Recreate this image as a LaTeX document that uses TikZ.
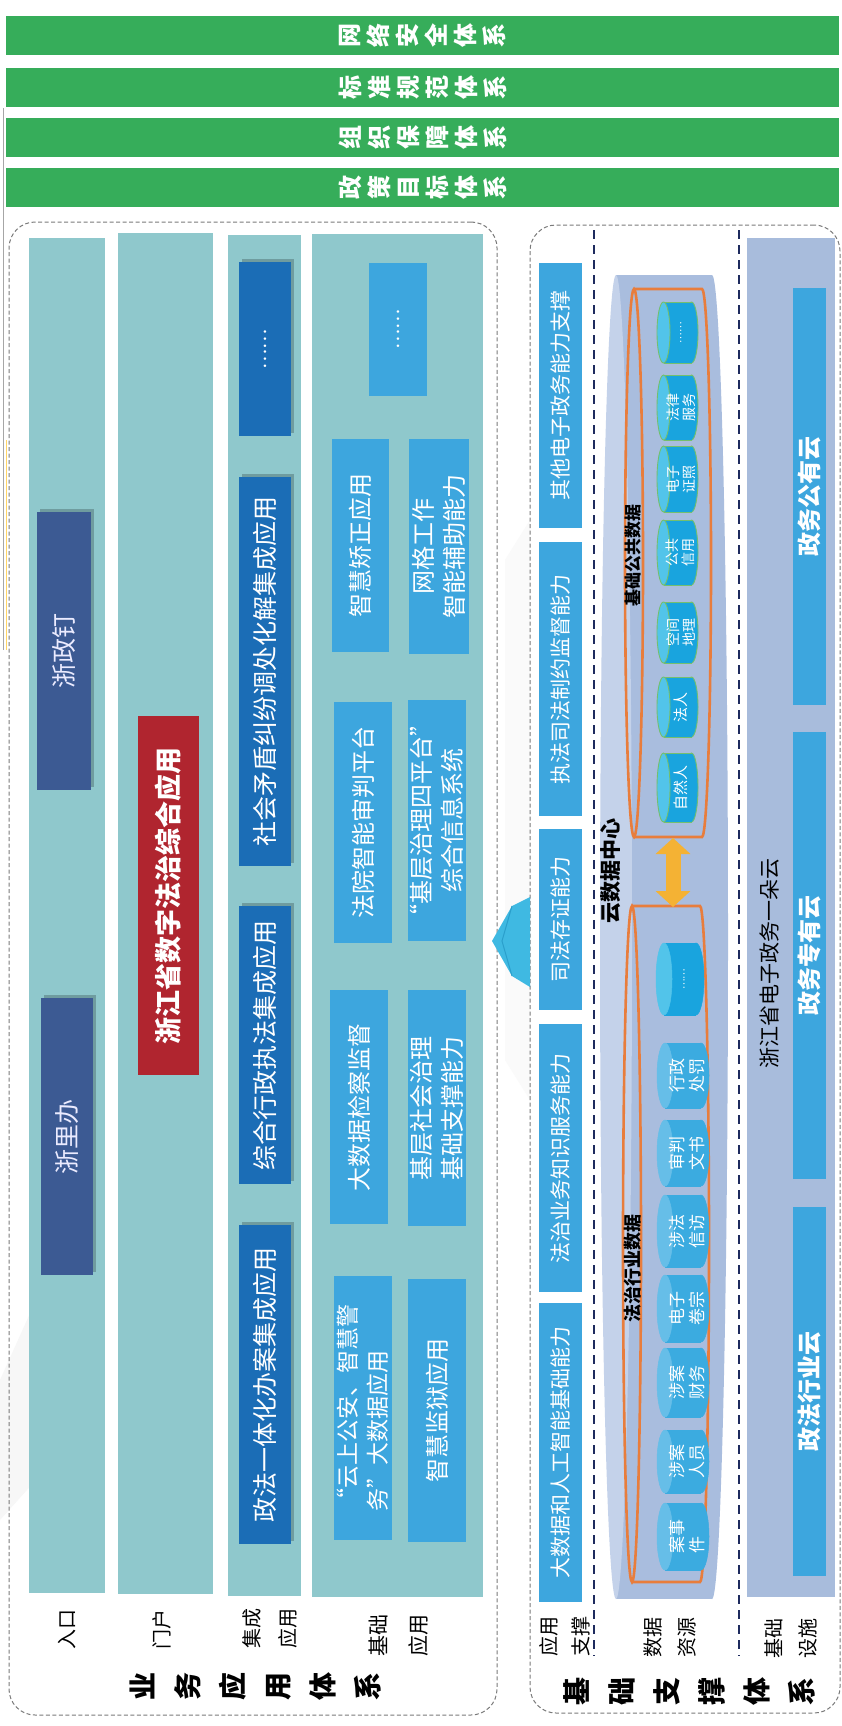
\documentclass[tikz,border=0pt]{standalone}
\usepackage{fontspec}
\setmainfont{Noto Sans CJK SC}
\usetikzlibrary{arrows.meta}
\definecolor{gbar}{HTML}{36AD5A}
\definecolor{colteal}{HTML}{8FC8CC}
\definecolor{cnavy}{HTML}{3C5A93}
\definecolor{cred}{HTML}{B0252F}
\definecolor{cdblue}{HTML}{1B6DB6}
\definecolor{clblue}{HTML}{3DA6DE}
\definecolor{cinfra}{HTML}{A8BCDC}
\definecolor{cbig}{HTML}{A9BDDE}
\definecolor{cbigface}{HTML}{C4D2EA}
\definecolor{cylA}{HTML}{19A4DE}
\definecolor{cylAf}{HTML}{52C4EA}
\definecolor{cylO}{HTML}{74BF6E}
\definecolor{cylB}{HTML}{3BABE0}
\definecolor{cylBf}{HTML}{66BEE8}
\definecolor{corange}{HTML}{E87D3C}
\definecolor{cyellow}{HTML}{F4B234}
\definecolor{carrow}{HTML}{3FB9E2}
\definecolor{carrowd}{HTML}{2A9FCB}
\definecolor{cdash}{HTML}{1E2B5E}
\definecolor{cpanel}{HTML}{7A7A7A}
% box: name, style, x1, y1, x2, y2, text (text rotated 90 deg)
\newcommand{\bx}[7]{\node[#2, rotate=90, minimum width={(#6)-(#4)}, minimum height={(#5)-(#3)}] (#1) at ({((#3)+(#5))/2},{((#4)+(#6))/2}) {#7};}
\newcommand{\shd}[4]{\fill[black,opacity=0.22] ({(#1)+3},{(#2)-3}) rectangle ({(#3)+3},{(#4)-3});}
% database cylinder: name, x1, y1, x2, y2, rx, body style, face style, text
\newcommand{\dbc}[9]{%
 \pgfmathsetmacro\cxa{#2+#6}\pgfmathsetmacro\cxb{#4-#6}%
 \pgfmathsetmacro\cym{(#3+#5)/2}\pgfmathsetmacro\ryy{(#5-#3)/2}%
 \path[#7] (\cxb,\cym) ellipse[x radius=#6pt, y radius=\ryy pt];
 \fill[#7,draw=none] (\cxa,#3) rectangle (\cxb,#5);
 \draw[#7,fill=none] (\cxa,#3) -- (\cxb,#3) (\cxa,#5) -- (\cxb,#5);
 \path[#8] (\cxa,\cym) ellipse[x radius=#6pt, y radius=\ryy pt];
 \node[cyltext] (#1) at ({(\cxa+#4)/2},\cym) {#9};
}
% orange outline can: x1, y1, x2, y2, rx
\newcommand{\ocan}[5]{%
 \pgfmathsetmacro\cxa{#1+#5}\pgfmathsetmacro\cxb{#3-#5}%
 \pgfmathsetmacro\cym{(#2+#4)/2}\pgfmathsetmacro\ryy{(#4-#2)/2}%
 \draw[ocanst] (\cxa,#2) -- (\cxb,#2) arc[start angle=90, end angle=-90, x radius=#5pt, y radius=\ryy pt] -- (\cxa,#4);
 \draw[ocanst] (\cxa,\cym) ellipse[x radius=#5pt, y radius=\ryy pt];
}
\begin{document}
\begin{tikzpicture}[x=1pt,y=-1pt,
  base/.style={inner sep=0pt, outer sep=0pt, align=center, text=white},
  gbarst/.style={base, fill=gbar, font=\bfseries\fontsize{24}{29}\selectfont},
  colbg/.style={base, fill=colteal},
  navybox/.style={base, fill=cnavy, text=white!92!blue, font=\fontsize{25}{30}\selectfont},
  redbox/.style={base, fill=cred, font=\bfseries\fontsize{27}{32}\selectfont},
  dbluebox/.style={base, fill=cdblue, font=\fontsize{25}{30}\selectfont},
  lbluebox/.style={base, fill=clblue, font=\fontsize{24}{31}\selectfont},
  dotsfont/.style={font=\fontsize{19}{20}\selectfont},
  supbox/.style={base, fill=clblue, font=\fontsize{21}{26}\selectfont},
  cloudbox/.style={base, fill=clblue, font=\bfseries\fontsize{24}{28}\selectfont},
  infrabg/.style={base, fill=cinfra},
  lab/.style={inner sep=0pt, align=center, text=black, rotate=90, font=\fontsize{20}{36}\selectfont},
  biglab/.style={inner sep=0pt, align=center, text=black, rotate=90, font=\bfseries\fontsize{28}{45}\selectfont},
  cyltext/.style={inner sep=0pt, align=center, text=white, rotate=90, font=\fontsize{14}{16}\selectfont},
  ocanst/.style={draw=corange, line width=2.6pt},
  panel/.style={draw=cpanel, dash pattern=on 4pt off 2.5pt, line width=1pt, rounded corners=26pt},
  sepline/.style={draw=cdash, dash pattern=on 9pt off 6pt, line width=2.2pt},
  cylbodyA/.style={fill=cylA, draw=cylO, line width=0.9pt},
  cylfaceA/.style={fill=cylAf, draw=cylO, line width=0.9pt},
  cylbodyB/.style={fill=cylB, draw=cylB, line width=0.5pt},
  cylfaceB/.style={fill=cylBf, draw=cylBf, line width=0.5pt},
  cylbodyC/.style={fill=cylA, draw=cylA, line width=0.5pt},
  cylfaceC/.style={fill=cylAf, draw=cylAf, line width=0.5pt}
]
\useasboundingbox (0,0) rectangle (842,1726);
\fill[white] (0,0) rectangle (842,1726);
% faint background bands
\fill[black!2] (505,560) -- (530,520) -- (530,1100) -- (505,1060) -- cycle;
\fill[black!3] (0,1380) -- (90,1180) -- (90,1420) -- (0,1520) -- cycle;
\draw[black!35, line width=0.8pt] (3,108) -- (3,650);
\draw[orange!55!yellow, line width=1pt, opacity=0.6] (6,440) -- (6,650);

% ---------- green bars ----------
\bx{g1}{gbarst}{6}{16}{839}{55}{网\\络\\安\\全\\体\\系}
\bx{g2}{gbarst}{6}{68}{839}{107}{标\\准\\规\\范\\体\\系}
\bx{g3}{gbarst}{6}{118}{839}{157}{组\\织\\保\\障\\体\\系}
\bx{g4}{gbarst}{6}{168}{839}{207}{政\\策\\目\\标\\体\\系}

% ---------- left panel ----------
\node[panel, minimum width=488, minimum height=1493] (lpanel) at (253,968.5) {};
\bx{c1}{colbg}{29}{238}{105}{1593}{}
\bx{c2}{colbg}{118}{233}{213}{1594}{}
\bx{c3}{colbg}{228}{235}{301}{1596}{}
\bx{c4}{colbg}{312}{234}{483}{1597}{}

\shd{37}{512}{91}{790}
\bx{zzd}{navybox}{37}{512}{91}{790}{浙政钉}
\shd{41}{998}{93}{1275}
\bx{zlb}{navybox}{41}{998}{93}{1275}{浙里办}

\bx{szfz}{redbox}{138}{716}{199}{1075}{浙江省数字法治综合应用}

\shd{239}{262}{291}{436}
\bx{i1}{dbluebox, dotsfont}{239}{262}{291}{436}{……}
\shd{239}{477}{291}{866}
\bx{i2}{dbluebox}{239}{477}{291}{866}{社会矛盾纠纷调处化解集成应用}
\shd{239}{906}{291}{1184}
\bx{i3}{dbluebox}{239}{906}{291}{1184}{综合行政执法集成应用}
\shd{239}{1225}{291}{1544}
\bx{i4}{dbluebox}{239}{1225}{291}{1544}{政法一体化办案集成应用}

\bx{b1}{lbluebox, dotsfont}{369}{263}{427}{396}{……}
\bx{b2}{lbluebox}{332}{439}{389}{652}{智慧矫正应用}
\bx{b3}{lbluebox}{409}{439}{469}{654}{网格工作\\智能辅助能力}
\bx{b4}{lbluebox}{334}{702}{392}{943}{法院智能审判平台}
\bx{b5}{lbluebox}{408}{700}{466}{941}{“基层治理四平台”\\综合信息系统}
\bx{b6}{lbluebox}{330}{990}{388}{1224}{大数据检察监督}
\bx{b7}{lbluebox}{408}{990}{466}{1226}{基层社会治理\\基础支撑能力}
\bx{b8}{lbluebox, align=left, font=\fontsize{23}{30}\selectfont}{334}{1276}{392}{1540}{“云上公安、智慧警\\务”大数据应用}
\bx{b9}{lbluebox}{408}{1279}{466}{1542}{智慧监狱应用}

\node[lab] (l1) at (67,1629) {入口};
\node[lab] (l2) at (162,1629) {门户};
\node[lab] (l3) at (270,1628) {集成\\应用};
\node[lab, font=\fontsize{21}{40}\selectfont] (l4) at (399,1635) {基础\\应用};
\node[biglab] (lt1) at (256,1686) {业\\务\\应\\用\\体\\系};

% ---------- right panel ----------
\node[panel, minimum width=310, minimum height=1488] (rpanel) at (685,969) {};
\draw[sepline] (594,230) -- (594,1656);
\draw[sepline] (739,230) -- (739,1656);

\bx{s1}{supbox}{539}{263}{582}{528}{其他电子政务能力支撑}
\bx{s2}{supbox}{539}{542}{582}{816}{执法司法制约监督能力}
\bx{s3}{supbox}{539}{829}{582}{1010}{司法存证能力}
\bx{s4}{supbox}{539}{1024}{582}{1292}{法治业务知识服务能力}
\bx{s5}{supbox}{539}{1303}{582}{1602}{大数据和人工智能基础能力}

% big cloud data center can
\fill[cbig] (712,937) ellipse[x radius=16pt, y radius=662pt];
\fill[cbig] (616,275) rectangle (712,1599);
\fill[cbigface] (616,937) ellipse[x radius=16pt, y radius=662pt];

\ocan{625}{289}{711}{837}{9}
\ocan{623}{906}{709}{1582}{9}

\tikzset{cyltext/.style={inner sep=0pt, align=center, text=white, rotate=90, font=\fontsize{10}{12}\selectfont}}
\dbc{d1}{657}{302}{698}{363}{6.5}{cylbodyA}{cylfaceA}{……}
\tikzset{cyltext/.style={inner sep=0pt, align=center, text=white, rotate=90, font=\fontsize{14}{16}\selectfont}}
\dbc{d2}{657}{375}{698}{440}{6.5}{cylbodyA}{cylfaceA}{法律\\服务}
\dbc{d3}{657}{446}{698}{512}{6.5}{cylbodyA}{cylfaceA}{电子\\证照}
\dbc{d4}{657}{520}{698}{585}{6.5}{cylbodyA}{cylfaceA}{公共\\信用}
\dbc{d5}{657}{602}{698}{663}{6.5}{cylbodyA}{cylfaceA}{空间\\地理}
\tikzset{cyltext/.style={inner sep=0pt, align=center, text=white, rotate=90, font=\fontsize{15}{16}\selectfont}}
\dbc{d6}{657}{677}{698}{737}{6.5}{cylbodyA}{cylfaceA}{法人}
\dbc{d7}{657}{753}{698}{822}{6.5}{cylbodyA}{cylfaceA}{自然人}

\tikzset{cyltext/.style={inner sep=0pt, align=center, text=white, rotate=90, font=\fontsize{10}{12}\selectfont}}
\dbc{e1}{656}{943}{704}{1015}{8}{cylbodyC}{cylfaceC}{……}
\tikzset{cyltext/.style={inner sep=0pt, align=center, text=white, rotate=90, font=\fontsize{17}{20}\selectfont}}
\dbc{e2}{657}{1043}{709}{1108}{8}{cylbodyB}{cylfaceB}{行政\\处罚}
\dbc{e3}{657}{1120}{709}{1186}{8}{cylbodyB}{cylfaceB}{审判\\文书}
\dbc{e4}{657}{1195}{709}{1267}{8}{cylbodyB}{cylfaceB}{涉法\\信访}
\dbc{e5}{657}{1275}{709}{1342}{8}{cylbodyB}{cylfaceB}{电子\\卷宗}
\dbc{e6}{657}{1348}{709}{1417}{8}{cylbodyB}{cylfaceB}{涉案\\财务}
\dbc{e7}{657}{1430}{709}{1493}{8}{cylbodyB}{cylfaceB}{涉案\\人员}
\dbc{e8}{657}{1503}{709}{1570}{8}{cylbodyB}{cylfaceB}{案事\\件\phantom{事}}

\node[inner sep=0pt, rotate=90, font=\bfseries\fontsize{17}{18}\selectfont] (jcgg) at (633,555) {基础公共数据};
\node[inner sep=0pt, rotate=90, font=\bfseries\fontsize{18}{19}\selectfont] (fzhy) at (633,1268) {法治行业数据};
\node[inner sep=0pt, rotate=90, font=\bfseries\fontsize{21}{22}\selectfont] (ysj) at (611,871) {云数据中心};

\coordinate (ya1) at (673,838);
\coordinate (ya2) at (673,907);
\draw[draw=cyellow, line width=15pt, {Triangle[length=16pt,width=34pt]}-{Triangle[length=16pt,width=34pt]}] (ya1) -- (ya2);

% infrastructure
\bx{infra}{infrabg}{747}{238}{835}{1597}{}
\bx{y1}{cloudbox}{793}{288}{826}{705}{政务公有云}
\bx{y2}{cloudbox}{793}{732}{826}{1179}{政务专有云}
\bx{y3}{cloudbox}{793}{1207}{826}{1576}{政法行业云}
\node[inner sep=0pt, rotate=90, font=\fontsize{21}{22}\selectfont] (yzw) at (770,963) {浙江省电子政务一朵云};

\node[lab, font=\fontsize{20}{32}\selectfont] (r1) at (565,1636) {应用\\支撑};
\node[lab, font=\fontsize{20}{34}\selectfont] (r2) at (670,1637) {数据\\资源};
\node[lab, font=\fontsize{20}{34}\selectfont] (r3) at (791,1638) {基础\\设施};
\node[biglab] (rt1) at (689,1691) {基\\础\\支\\撑\\体\\系};

% blue arrow between panels
\coordinate (bt) at (492,941);
\fill[carrow] (bt) -- (512,906) -- (530,897) -- (530,987) -- (512,976) -- cycle;
\draw[carrowd, line width=1pt] (512,906) -- (502,941) -- (512,976);
\end{tikzpicture}
\end{document}
